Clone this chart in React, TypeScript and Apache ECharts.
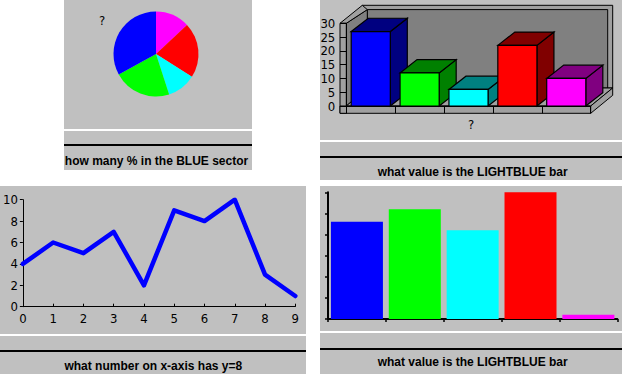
import React, { useEffect, useRef } from "react";
import * as echarts from "echarts";

// ---- data ----
const pieCategories = ["magenta", "red", "cyan", "green", "blue"];
const pieValues = [13, 21, 11, 22, 33];

const bar3dCategories = ["blue", "green", "lightblue", "red", "magenta"];
const bar3dValues = [27, 12, 6, 22, 10];

const lineX = [0, 1, 2, 3, 4, 5, 6, 7, 8, 9];
const lineY = [4, 6, 5, 7, 2, 9, 8, 10, 3, 1];

const barCategories = ["blue", "green", "lightblue", "red", "magenta"];
const barValues = [23, 26, 21, 30, 1];

const questionPie = "how many % in the BLUE sector";
const question3d = "what value is the LIGHTBLUE bar";
const questionLine = "what number on x-axis has y=8";
const questionBar = "what value is the LIGHTBLUE bar";

// ---- styles ----
const pieColors = ["#ff00ff", "#ff0000", "#00ffff", "#00ff00", "#0000ff"];
const frontColors = ["#0000ff", "#00ff00", "#00ffff", "#ff0000", "#ff00ff"];
const darkColors = ["#000080", "#008000", "#008080", "#800000", "#800080"];
const PANEL = "#c0c0c0";
const SLAB = "#a0a0a0";
const WALL = "#808080";
const TICK_FONT = "'Liberation Sans Narrow', 'Arial Narrow', 'DejaVu Sans Condensed', sans-serif";
const Q_FONT = "'Liberation Sans', Arial, sans-serif";

export default function App() {
  const ref = useRef<HTMLDivElement>(null);
  useEffect(() => {
    if (!ref.current) return;
    const chart = echarts.init(ref.current, undefined, { renderer: "svg" });

    const rect = (x: number, y: number, w: number, h: number, fill: string, z = -10) => ({
      type: "rect", z, silent: true, shape: { x, y, width: w, height: h }, style: { fill },
    });
    const poly = (pts: number[][], fill: string, z = -5) => ({
      type: "polygon", z, silent: true, shape: { points: pts },
      style: { fill, stroke: "#000", lineWidth: 1 },
    });
    const qtext = (x: number, y: number, text: string) => ({
      type: "text", z: 10, silent: true, x, y,
      style: { text, fill: "#000", font: `bold 12px ${Q_FONT}`, align: "center", verticalAlign: "middle" },
    });

    // 3D box frame geometry (front plane from grid, depth offset)
    const L = 346.3, R = 590.7, T = 23.3, F = 106;
    const WL = 340, FB = 113.3, DX = 22, DY = -18;

    const graphics: any[] = [
      // panels
      rect(64, 0, 188, 129, PANEL), rect(64, 131, 188, 39, PANEL), rect(64, 144, 188, 2, "#000"),
      rect(320, 0, 302, 140, PANEL), rect(320, 142, 302, 38, PANEL), rect(320, 156, 302, 2, "#000"),
      rect(0, 186, 306, 148, PANEL), rect(0, 336, 306, 38, PANEL), rect(0, 350, 306, 2, "#000"),
      rect(320, 186, 302, 145, PANEL), rect(320, 333, 302, 41, PANEL), rect(320, 348, 302, 2, "#000"),
      // 3D box: back wall
      poly([[L + 16, T + DY], [R + DX, T + DY], [R + DX, F + DY], [L + 16, F + DY]], SLAB),
      poly([[L + 21, T + DY + 4.3], [R + DX - 5, T + DY + 4.3], [R + DX - 5, F + DY], [L + 21, F + DY]], WALL),
      // left wall inner face
      poly([[L, T], [L + 21, T + DY + 4.3], [L + 21, F + DY], [L, F]], WALL),
      // left wall top
      poly([[WL, T], [L, T], [L + 21, T + DY + 4.3], [L + 16, T + DY]], SLAB),
      // left wall front
      poly([[WL, T], [L, T], [L, FB], [WL, FB]], SLAB),
      // floor top
      poly([[L, F], [R, F], [R + DX, F + DY], [L + 21, F + DY]], SLAB),
      // floor front
      poly([[WL, F], [R, F], [R, FB], [WL, FB]], SLAB),
      // floor right side
      poly([[R, F], [R + DX, F + DY], [R + DX, FB + DY], [R, FB]], SLAB),
      // question marks
      { type: "text", z: 10, silent: true, x: 102, y: 20,
        style: { text: "?", fill: "#000", font: `13px ${TICK_FONT}`, align: "center", verticalAlign: "middle" } },
      { type: "text", z: 10, silent: true, x: 471, y: 124,
        style: { text: "?", fill: "#000", font: `13px ${TICK_FONT}`, align: "center", verticalAlign: "middle" } },
      // questions
      qtext(156.5, 161, questionPie),
      qtext(472.7, 172, question3d),
      qtext(153.3, 366, questionLine),
      qtext(472.7, 361.5, questionBar),
    ];

    const blackLine = { lineStyle: { color: "#000", width: 1 } };
    const tickLabel = { color: "#000", fontFamily: TICK_FONT, fontSize: 13 };

    chart.setOption({
      animation: false,
      backgroundColor: "#ffffff",
      graphic: { elements: graphics },
      grid: [
        { left: L, right: 622 - R, top: T, bottom: 374 - F },
        { left: 20.7, right: 622 - 295.3, top: 199.7, bottom: 374 - 306.7 },
        { left: 328, right: 622 - 617.3, top: 192.3, bottom: 374 - 319 },
      ],
      xAxis: [
        { type: "category", gridIndex: 0, data: bar3dCategories, z: 3,
          axisLine: { show: true, ...blackLine },
          axisTick: { show: true, interval: 0, length: 7.3, ...blackLine },
          axisLabel: { show: false, interval: 0 }, splitLine: { show: false } },
        { type: "value", gridIndex: 1, min: 0, max: 9, interval: 1,
          axisLine: { show: true, ...blackLine }, axisTick: { show: true, inside: true, length: 3, ...blackLine },
          axisLabel: { ...tickLabel, margin: 5 }, splitLine: { show: false } },
        { type: "category", gridIndex: 2, data: barCategories,
          axisLine: { show: true, lineStyle: { color: "#000", width: 2 } },
          axisTick: { show: true, interval: 0, length: 3, lineStyle: { color: "#000", width: 1.5 } },
          axisLabel: { show: false, interval: 0 }, splitLine: { show: false } },
      ],
      yAxis: [
        { type: "value", gridIndex: 0, min: 0, max: 30, interval: 5, z: 3,
          axisLine: { show: true, ...blackLine }, axisTick: { show: true, length: 6.3, ...blackLine },
          axisLabel: { ...tickLabel, margin: 11 }, splitLine: { show: false } },
        { type: "value", gridIndex: 1, min: 0, max: 10, interval: 2,
          axisLine: { show: true, ...blackLine }, axisTick: { show: true, length: 3, ...blackLine },
          axisLabel: { ...tickLabel, margin: 5 }, splitLine: { show: false } },
        { type: "value", gridIndex: 2, min: 0, max: 30, interval: 5,
          axisLine: { show: true, lineStyle: { color: "#000", width: 2 } },
          axisTick: { show: true, length: 3, lineStyle: { color: "#000", width: 1.5 } },
          axisLabel: { show: false }, splitLine: { show: false } },
      ],
      series: [
        {
          type: "pie", center: [156, 54], radius: 42.5, startAngle: 90, clockwise: true,
          silent: true, label: { show: false }, labelLine: { show: false },
          data: pieCategories.map((name, i) => ({ name, value: pieValues[i], itemStyle: { color: pieColors[i] } })),
        },
        {
          type: "custom", xAxisIndex: 0, yAxisIndex: 0, silent: true,
          data: bar3dValues.map((v, i) => [i, v]),
          encode: { x: 0, y: 1 },
          renderItem: (params: any, api: any) => {
            const i = api.value(0);
            const v = api.value(1);
            const base = api.coord([i, 0]);
            const top = api.coord([i, v]);
            const bw = api.size([1, 0])[0] * 0.8;
            const x0 = base[0] - bw / 2, x1 = base[0] + bw / 2;
            const yT = top[1], yB = base[1];
            const dx = 17, dy = -13.3;
            const st = (fill: string) => ({ fill, stroke: "#000", lineWidth: 1.2 });
            return {
              type: "group",
              children: [
                { type: "polygon", shape: { points: [[x1, yT], [x1 + dx, yT + dy], [x1 + dx, yB + dy], [x1, yB]] }, style: st(darkColors[i]) },
                { type: "polygon", shape: { points: [[x0, yT], [x0 + dx, yT + dy], [x1 + dx, yT + dy], [x1, yT]] }, style: st(darkColors[i]) },
                { type: "polygon", shape: { points: [[x0, yT], [x1, yT], [x1, yB], [x0, yB]] }, style: st(frontColors[i]) },
              ],
            };
          },
        },
        {
          type: "line", xAxisIndex: 1, yAxisIndex: 1, silent: true, symbol: "none",
          data: lineX.map((x, i) => [x, lineY[i]]),
          lineStyle: { color: "#0000ff", width: 4.5, join: "round", cap: "round" },
        },
        {
          type: "bar", xAxisIndex: 2, yAxisIndex: 2, silent: true, barWidth: 52,
          data: barValues.map((v, i) => ({ value: v, itemStyle: { color: frontColors[i] } })),
        },
      ],
    });
    return () => chart.dispose();
  }, []);
  return <div ref={ref} style={{ position: "fixed", left: 0, top: 0, width: 622, height: 374 }} />;
}
